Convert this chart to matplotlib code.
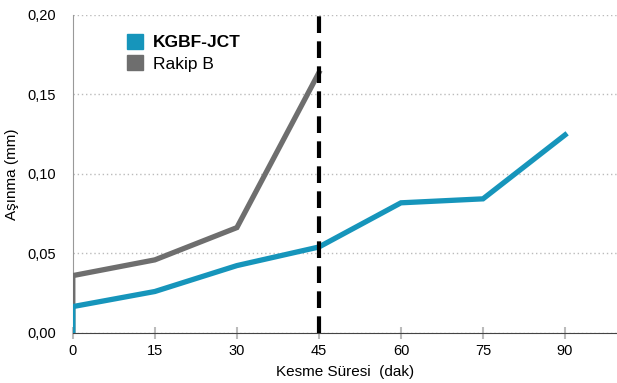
import matplotlib.pyplot as plt
from matplotlib.patches import Patch

# Data
zaman = [0, 0, 15, 30, 45, 60, 75, 90]
kgbf = [0.0, 0.0165, 0.026, 0.0423, 0.054, 0.0818, 0.0843, 0.1245]
zaman_rakip = [0, 0, 15, 30, 45]
rakip = [0.0, 0.036, 0.0459, 0.0662, 0.1637]
x_ticks = [0, 15, 30, 45, 60, 75, 90]
y_ticks = [0.0, 0.05, 0.10, 0.15, 0.20]
y_labels = ['0,00', '0,05', '0,10', '0,15', '0,20']

blue = '#1695BB'
gray = '#6E6E6E'

plt.rcParams['font.family'] = ['Liberation Sans', 'DejaVu Sans']

fig = plt.figure(figsize=(6.17, 3.83), dpi=100)
ax = fig.add_axes([0.118, 0.131, 0.882, 0.83])

ax.plot(zaman_rakip, rakip, color=gray, lw=3.8, solid_joinstyle='miter', zorder=3)
ax.plot(zaman, kgbf, color=blue, lw=3.8, solid_joinstyle='miter', zorder=4)
ax.axvline(45, color='black', lw=3, dashes=(4, 2), zorder=5)

ax.set_xlim(0, 99.5)
ax.set_ylim(0, 0.2)
ax.set_xticks(x_ticks)
ax.set_yticks(y_ticks)
ax.set_yticklabels(y_labels)
ax.yaxis.grid(True, linestyle=(0, (1, 2)), color='#BBBBBB', lw=1)
ax.set_axisbelow(True)

for s in ['top', 'right']:
    ax.spines[s].set_visible(False)
ax.spines['left'].set_color('#999999')
ax.spines['bottom'].set_color('#444444')
ax.tick_params(axis='y', length=0, pad=12, labelsize=10.5)
ax.tick_params(axis='x', direction='inout', length=8, color='#BBBBBB', width=1.5, labelsize=10.5, pad=4)

ax.set_xlabel('Kesme Süresi  (dak)', fontsize=11, labelpad=5)
ax.set_ylabel('Aşınma (mm)', fontsize=11, labelpad=6)

handles = [Patch(color=blue, label='KGBF-JCT'), Patch(color=gray, label='Rakip B')]
leg = ax.legend(handles=handles, loc='upper left', bbox_to_anchor=(0.07, 0.99),
                frameon=False, fontsize=12.5, handlelength=0.95, handleheight=0.95,
                handletextpad=0.55, labelspacing=0.3)
leg.get_texts()[0].set_fontweight('bold')

fig.savefig('out.png', dpi=100)
